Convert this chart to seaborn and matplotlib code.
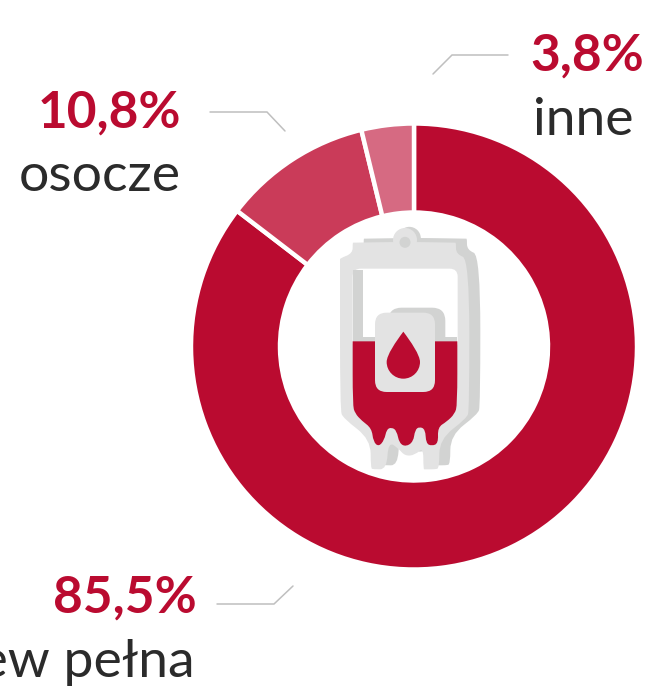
import numpy as np
import matplotlib
matplotlib.use('Agg')
import matplotlib.pyplot as plt
import seaborn as sns
from matplotlib.patches import Circle, FancyBboxPatch, PathPatch, Rectangle
from matplotlib.path import Path

# --- chart data ---
categories = ['krew pełna', 'osocze', 'inne']
shares = [85.5, 10.8, 3.8]
share_labels = ['85,5%', '10,8%', '3,8%']
slice_colors = ['#BA0B30', '#CA3B59', '#D66A82']

W, H = 671, 692
RED = '#BA0B30'
BAG = '#E3E3E3'
SHADOW = '#D2D3D2'

sns.set_theme(style='white')
plt.rcParams['font.family'] = ['Lato', 'DejaVu Sans']

fig = plt.figure(figsize=(W / 100, H / 100), dpi=100)
ax = fig.add_axes([0, 0, 1, 1])

ax.pie(shares, colors=sns.color_palette(slice_colors), startangle=90, counterclock=False,
       center=(414, H - 346.5), radius=223,
       wedgeprops={'width': 89, 'edgecolor': 'white', 'linewidth': 3.2})
ax.set_xlim(0, W)
ax.set_ylim(0, H)
ax.set_aspect('equal')
ax.axis('off')


def z(x, y, dx=0, dy=0):
    return (320 + x / 3 + dx, H - (210 + y / 3 + dy))


def draw_smooth(pts, color, dx=0, dy=0, zorder=3):
    # closed outline, corners rounded with quadratic curves through edge midpoints
    p = np.array([z(x, y, dx, dy) for x, y in pts])
    nxt = np.roll(p, -1, axis=0)
    mid = (p + nxt) / 2
    verts = [mid[-1]]
    codes = [Path.MOVETO]
    for i in range(len(p)):
        verts += [p[i], mid[i]]
        codes += [Path.CURVE3, Path.CURVE3]
    ax.add_patch(PathPatch(Path(verts, codes), fc=color, ec='none', zorder=zorder))


def draw_round(x0, y0, x1, y1, r, color, dx=0, dy=0, zorder=5):
    xa, ya = z(x0, y1, dx, dy)
    xb, yb = z(x1, y0, dx, dy)
    r = r / 3
    ax.add_patch(FancyBboxPatch((xa + r, ya + r), xb - xa - 2 * r, yb - ya - 2 * r,
                                boxstyle=f'round,pad={r}', fc=color, ec='none', zorder=zorder))


def draw_rect(x0, y0, x1, y1, color, zorder=5):
    xa, ya = z(x0, y1)
    xb, yb = z(x1, y0)
    ax.add_patch(Rectangle((xa, ya), xb - xa, yb - ya, fc=color, ec='none', zorder=zorder))


bag_outline = [(60, 150), (60, 145), (98, 130), (98, 98), (100, 98), (222, 96), (288, 96), (405, 98),
               (408, 98), (408, 132), (448, 148), (448, 600), (440, 625), (358, 688), (358, 775),
               (345, 778), (315, 778), (310, 778), (310, 712), (285, 735), (255, 738), (235, 715),
               (205, 695), (200, 778), (160, 778), (152, 775), (152, 688), (70, 625), (60, 600)]
blood = [(98, 394), (98, 394), (412, 394), (412, 394), (412, 585), (404, 612), (380, 635), (353, 652),
         (355, 700), (335, 708), (318, 700), (316, 658), (298, 650), (285, 660), (280, 695),
         (258, 710), (238, 700), (230, 662), (215, 652), (200, 658), (193, 690), (176, 710),
         (160, 695), (155, 655), (125, 632), (105, 610), (98, 585)]

# shadow layer, then the bag on top
draw_smooth(bag_outline, SHADOW, dx=11, dy=-4, zorder=3)
ax.add_patch(Circle(z(268, 85), 11.5, fc=SHADOW, ec='none', zorder=3))
draw_smooth(bag_outline, BAG, zorder=4)
ax.add_patch(Circle(z(255, 90), 12, fc=BAG, ec='none', zorder=4))
ax.add_patch(Circle(z(255, 97), 5.5, fc=SHADOW, ec='none', zorder=5))

draw_round(98, 176, 413, 420, 24, 'white', zorder=5)
draw_rect(100, 180, 128, 385, SHADOW, zorder=5)
draw_rect(100, 380, 412, 396, SHADOW, zorder=5)
draw_round(205, 293, 376, 440, 40, SHADOW, zorder=5)
draw_smooth(blood, RED, zorder=6)
draw_round(165, 308, 345, 546, 35, BAG, zorder=7)

# drop on the label
tip = z(250, 365)
cx, cy = z(250, 456)
r = 50 / 3
drop = Path([tip, (cx + 0.45 * r, tip[1] - 10), (cx + r, cy + 7), (cx + r, cy),
             (cx + r, cy - 0.55 * r), (cx + 0.55 * r, cy - r), (cx, cy - r),
             (cx - 0.55 * r, cy - r), (cx - r, cy - 0.55 * r), (cx - r, cy),
             (cx - r, cy + 7), (cx - 0.45 * r, tip[1] - 10), tip],
            [Path.MOVETO] + [Path.CURVE4] * 12)
ax.add_patch(PathPatch(drop, fc=RED, ec='none', zorder=8))

# leader lines
leaders = [[(217, 604), (274, 604), (293, 586)],
           [(210, 112), (267, 112), (285, 131)],
           [(508, 55), (452, 55), (433, 74)]]
for line in leaders:
    ax.plot([p[0] for p in line], [H - p[1] for p in line], color='#BFBFBF', lw=1.1,
            solid_joinstyle='miter', zorder=2)

# labels
value_pos = [(197, 613, 'right'), (181, 128, 'right'), (530, 71, 'left')]
name_pos = [(195, 677, 'right'), (181, 191, 'right'), (533, 135, 'left')]
for i in range(3):
    x, y, ha = value_pos[i]
    ax.text(x, H - y, share_labels[i], color=RED, fontsize=37, fontweight='bold', ha=ha, va='baseline')
    x, y, ha = name_pos[i]
    ax.text(x, H - y, categories[i], color='#2B2B2B', fontsize=38.5, fontweight='normal', ha=ha, va='baseline')

fig.savefig('out.png', dpi=100, facecolor='white')
